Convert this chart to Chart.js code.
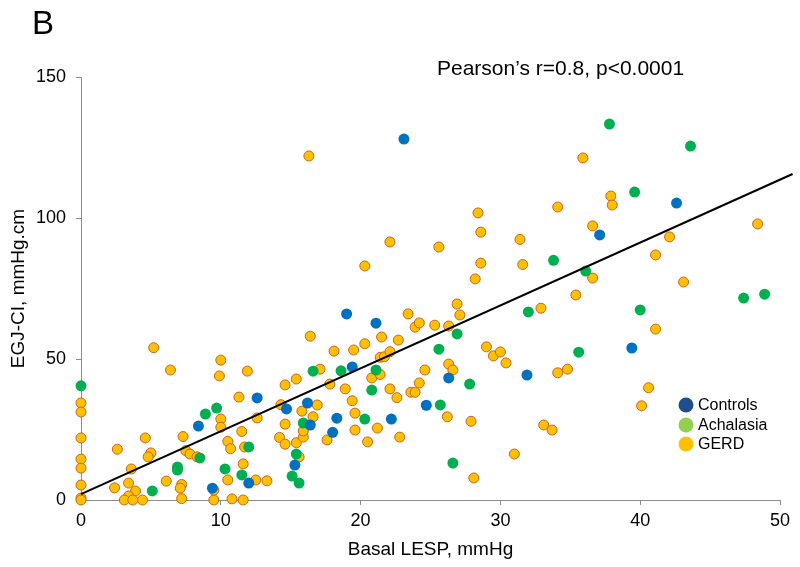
<!DOCTYPE html>
<html><head><meta charset="utf-8">
<script src="https://cdn.jsdelivr.net/npm/chart.js@4"></script>
<style>html,body{margin:0;padding:0;background:#fff}</style>
</head><body>
<canvas id="c" width="800" height="567"></canvas>
<script>
// ---- data ----
const xTicks = [0, 10, 20, 30, 40, 50];
const yTicks = [0, 50, 100, 150];

const controlsX = [23.1,19.0,21.1,19.4,16.2,14.7,18.3,16.4,18.0,22.2,24.7,26.3,15.3,31.9,12.6,8.4,12.0,9.4,42.6,37.1,39.4];
const controlsY = [128,66,62.7,47.2,34.4,32.3,29,26.6,24,28.7,33.6,43.3,12.4,44.3,36.2,26.2,6.0,4.2,105.3,94,53.9];

const achalasiaX = [37.8,43.6,39.6,33.8,36.1,32.0,40.0,47.4,48.9,35.6,26.9,25.6,27.8,25.7,26.6,16.6,18.6,21.1,20.8,20.3,15.9,15.4,15.1,15.6,9.7,8.9,12.0,8.5,10.3,11.5,6.9,6.9,5.1,0];
const achalasiaY = [133.3,125.5,109.2,85,81.2,66.7,67.4,71.6,73,52.4,58.9,53.5,41.1,33.7,13.1,45.7,45.8,46.1,39,28.7,27.3,16.3,8.5,6.0,32.6,30.5,18.8,14.9,11,8.9,11.7,10.6,3.2,40.5];

const gerdX = [0,0,0,0,0,0,0,0,2.6,2.4,3.4,3.9,3.4,3.1,3.7,4.4,3.6,4.6,5.0,4.8,5.2,6.4,6.1,7.3,7.5,7.8,8.3,7.2,7.1,7.2,9.5,9.5,10.8,11.6,10.0,9.9,11.9,11.3,10.0,10.0,12.6,11.5,10.5,10.7,11.7,11.6,10.5,12.5,13.3,14.3,14.6,15.4,14.6,14.2,14.6,15.4,15.9,15.6,15.8,15.9,16.4,17.1,16.9,16.6,17.8,17.6,18.1,18.9,19.4,19.5,19.6,19.6,20.3,20.5,20.8,21.4,21.2,21.5,21.4,21.7,22.1,22.1,22.6,22.7,22.8,23.6,23.9,24.2,23.4,23.9,24.2,25.3,26.3,24.6,26.3,26.6,26.2,27.9,28.1,26.9,27.1,29.0,29.5,30.0,30.4,31.0,16.3,20.3,22.1,25.6,28.4,28.6,28.6,28.2,31.4,31.6,32.9,34.1,35.9,37.9,38.0,36.6,42.1,48.4,41.1,36.6,35.4,43.1,41.1,34.1,34.8,40.6,40.1,33.1,33.7];
const gerdY = [34.4,31.2,22,14.5,11.3,5.3,0.7,0,18,4.3,6,3.2,1.4,0,0,0,11,22,16.7,15.3,54,46.1,6.7,22.5,17.5,16.3,15.3,5.5,4.2,0.5,0,3.5,0.4,0,49.6,44,45.7,36.5,28.7,25.8,29.1,24.3,20.8,18.2,18.8,12.8,7.1,7.1,6.8,33.8,40.8,42.9,26.9,22.2,19.8,20.3,22.3,15.3,31.5,24.5,58.1,46.4,33.7,29.5,41.1,21.3,52.8,39.4,35.2,53.2,30.8,24.8,55.4,20.6,43.3,44.5,25.5,57.8,50.6,50.8,52.6,39.4,36.3,56.7,22.3,38.2,38.2,41.5,66,61.3,62.8,62,61.7,46.1,48.2,46.1,29.5,27.9,7.8,69.5,65.6,54.3,51.1,52.5,48.6,16.3,122,83,91.5,89.7,101.8,95,84,78.4,92.4,83.5,68,103.9,121.3,107.8,104.6,97.2,93.3,97.9,86.9,78.7,72.7,77.3,60.6,45.1,46.4,39.8,33.4,26.6,24.8];

const fitX = [0, 50.9];
const fitY = [2.1, 115.6];

const seriesNames = ['Controls', 'Achalasia', 'GERD'];
const legendColors = ['#1f4e8c', '#92d050', '#ffc000'];

const pts = (xs, ys) => xs.map((x, i) => ({x, y: ys[i]}));

const FONT = "'Liberation Sans', Arial, sans-serif";

const overlay = {
  id: 'overlay',
  afterDraw(chart) {
    const ctx = chart.ctx;
    ctx.save();
    ctx.fillStyle = '#000';
    ctx.textBaseline = 'alphabetic';
    ctx.textAlign = 'left';
    ctx.font = '33px ' + FONT;
    ctx.fillText('B', 32, 34);
    ctx.font = '21px ' + FONT;
    ctx.fillText('Pearson\u2019s r=0.8, p<0.0001', 437, 75);
    // legend
    ctx.font = '16px ' + FONT;
    ctx.textBaseline = 'middle';
    const ly = [405, 425, 444];
    seriesNames.forEach((n, i) => {
      ctx.beginPath();
      ctx.fillStyle = legendColors[i];
      ctx.arc(686, ly[i], 7.5, 0, Math.PI * 2);
      ctx.fill();
      ctx.fillStyle = '#000';
      ctx.fillText(n, 698, ly[i] + 1);
    });
    ctx.restore();
  }
};

new Chart(document.getElementById('c'), {
  type: 'scatter',
  data: {
    datasets: [
      { label: 'Fit', type: 'line', data: pts(fitX, fitY), borderColor: '#000', borderWidth: 2,
        pointRadius: 0, fill: false, clip: false, order: 0 },
      { label: seriesNames[0], data: pts(controlsX, controlsY), backgroundColor: '#0070c0',
        borderColor: '#0070c0', borderWidth: 0, pointRadius: 5.5, clip: false, order: 1 },
      { label: seriesNames[1], data: pts(achalasiaX, achalasiaY), backgroundColor: '#00b050',
        borderColor: '#00b050', borderWidth: 0, pointRadius: 5.5, clip: false, order: 2 },
      { label: seriesNames[2], data: pts(gerdX, gerdY), backgroundColor: '#ffc000',
        borderColor: '#c8641e', borderWidth: 1, pointRadius: 5, clip: false, order: 3 }
    ]
  },
  options: {
    responsive: false,
    animation: false,
    events: [],
    layout: { padding: { left: 0, top: 77, right: 20, bottom: 0 } },
    plugins: { legend: { display: false }, tooltip: { enabled: false } },
    scales: {
      x: {
        type: 'linear', min: 0, max: 50,
        afterBuildTicks: s => { s.ticks = xTicks.map(v => ({value: v})); },
        afterFit: s => { s.height = 67; },
        border: { color: '#8c8c8c', width: 1 },
        grid: { drawOnChartArea: false, drawTicks: true, tickLength: 5, color: '#8c8c8c' },
        ticks: { color: '#000', font: { family: FONT, size: 18 }, padding: 5 },
        title: { display: true, text: 'Basal LESP, mmHg', color: '#000',
                 font: { family: FONT, size: 19 }, padding: { top: 0, bottom: 6 } }
      },
      y: {
        type: 'linear', min: 0, max: 150,
        afterBuildTicks: s => { s.ticks = yTicks.map(v => ({value: v})); },
        afterFit: s => { s.width = 81; },
        border: { color: '#8c8c8c', width: 1 },
        grid: { drawOnChartArea: false, drawTicks: true, tickLength: 5, color: '#8c8c8c' },
        ticks: { color: '#000', font: { family: FONT, size: 18 }, padding: 10 },
        title: { display: true, text: 'EGJ-CI, mmHg.cm', color: '#000',
                 font: { family: FONT, size: 19 }, padding: { top: 7, bottom: 0 } }
      }
    }
  },
  plugins: [overlay]
});
</script>
</body></html>
